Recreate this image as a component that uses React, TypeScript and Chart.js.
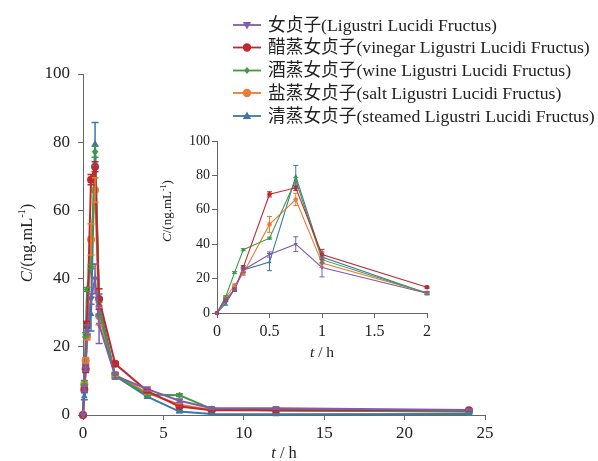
import React, { useEffect, useRef } from "react";
import { Chart, registerables } from "chart.js";

Chart.register(...registerables);

const times = [0, 0.083, 0.167, 0.25, 0.5, 0.75, 1, 2, 4, 6, 8, 12, 24];

const seriesNames = [
  "女贞子(Ligustri Lucidi Fructus)",
  "醋蒸女贞子(vinegar Ligustri Lucidi Fructus)",
  "酒蒸女贞子(wine Ligustri Lucidi Fructus)",
  "盐蒸女贞子(salt Ligustri Lucidi Fructus)",
  "清蒸女贞子(steamed Ligustri Lucidi Fructus)",
];

const rawValues = [0, 7.8, 13.8, 25, 34, 40, 26.5, 11.5, 7.6, 4.2, 2, 2, 1.5];
const vinegarValues = [0, 7.5, 13.5, 26.5, 69, 72.8, 34, 15, 7, 2.5, 1.4, 1.4, 1.4];
const wineValues = [0, 9.5, 23.5, 36.8, 43.5, 77.2, 31, 11.5, 6, 5.8, 1.8, 1.3, 1];
const saltValues = [0, 9, 16, 23, 51.5, 66, 29, 11.8, 6.5, 3, 1.5, 1.4, 1];
const steamedValues = [0, 5.5, 14, 25, 29.6, 79.5, 32.5, 11.5, 5.4, 1, 0.3, 0.2, 0.3];

const rawErrors = [0, 0.8, 1, 1.5, 1.5, 4.3, 5.5, 1, 0.6, 0.5, 0.3, 0.3, 0.2];
const vinegarErrors = [0, 0.6, 1, 1, 1.5, 1.5, 3, 0.6, 0.5, 0.3, 0.2, 0.2, 0.2];
const wineErrors = [0, 0.6, 0.6, 0.6, 0.6, 1.6, 2, 0.6, 0.5, 0.4, 0.2, 0.2, 0.2];
const saltErrors = [0, 0.6, 0.8, 1, 4.6, 3.6, 2.5, 0.6, 0.5, 0.3, 0.2, 0.2, 0.2];
const steamedErrors = [0, 1, 1, 1.2, 5, 6.3, 3, 0.6, 0.5, 0.3, 0.2, 0.2, 0.2];

const mainXTicks = [0, 5, 10, 15, 20, 25];
const mainYTicks = [0, 20, 40, 60, 80, 100];
const insetXTicks = [0, 0.5, 1, 1.5, 2];
const insetYTicks = [0, 20, 40, 60, 80, 100];

const colors = ["#7d5ea8", "#c0282e", "#3f9a44", "#ec7a34", "#3b77a8"];
const shapes = ["triangleDown", "circle", "rectRot", "circle", "triangle"];

const allValues = [rawValues, vinegarValues, wineValues, saltValues, steamedValues];
const allErrors = [rawErrors, vinegarErrors, wineErrors, saltErrors, steamedErrors];

const SERIF = "'Liberation Serif', 'Times New Roman', serif";

type Part = { t: string; i?: boolean; sup?: boolean };

function drawRich(ctx: CanvasRenderingContext2D, parts: Part[], cx: number, cy: number, size: number, rotate: boolean) {
  ctx.save();
  ctx.translate(cx, cy);
  if (rotate) ctx.rotate(-Math.PI / 2);
  const fontFor = (p: Part) => `${p.i ? "italic " : ""}${p.sup ? Math.round(size * 0.62) : size}px ${SERIF}`;
  let total = 0;
  for (const p of parts) {
    ctx.font = fontFor(p);
    total += ctx.measureText(p.t).width;
  }
  let x = -total / 2;
  ctx.fillStyle = "#222";
  ctx.textBaseline = "middle";
  ctx.textAlign = "left";
  for (const p of parts) {
    ctx.font = fontFor(p);
    ctx.fillText(p.t, x, p.sup ? -size * 0.35 : 0);
    x += ctx.measureText(p.t).width;
  }
  ctx.restore();
}

const yTitleParts: Part[] = [
  { t: "C", i: true },
  { t: "/(ng.mL" },
  { t: "-1", sup: true },
  { t: ")" },
];
const xTitleParts: Part[] = [{ t: "t", i: true }, { t: " / h" }];

function drawMarker(ctx: CanvasRenderingContext2D, shape: string, x: number, y: number, r: number, color: string) {
  ctx.save();
  ctx.fillStyle = color;
  ctx.beginPath();
  if (shape === "circle") {
    ctx.arc(x, y, r, 0, Math.PI * 2);
  } else if (shape === "triangle") {
    ctx.moveTo(x, y - r * 1.1);
    ctx.lineTo(x + r, y + r * 0.7);
    ctx.lineTo(x - r, y + r * 0.7);
    ctx.closePath();
  } else if (shape === "triangleDown") {
    ctx.moveTo(x, y + r * 1.1);
    ctx.lineTo(x + r, y - r * 0.7);
    ctx.lineTo(x - r, y - r * 0.7);
    ctx.closePath();
  } else if (shape === "rectRot") {
    ctx.moveTo(x, y - r);
    ctx.lineTo(x + r * 0.8, y);
    ctx.lineTo(x, y + r);
    ctx.lineTo(x - r * 0.8, y);
    ctx.closePath();
  }
  ctx.fill();
  ctx.restore();
}

function makeErrorPlugin(cap: number, lw: number) {
  return {
    id: "errbars",
    afterDatasetsDraw(chart: any) {
      const ctx = chart.ctx as CanvasRenderingContext2D;
      const ys = chart.scales.y;
      const xs = chart.scales.x;
      const area = chart.chartArea;
      ctx.save();
      ctx.beginPath();
      ctx.rect(area.left - 10, area.top - 20, area.right - area.left + 20, area.bottom - area.top + 30);
      ctx.clip();
      for (let d = chart.data.datasets.length - 1; d >= 0; d--) {
        const errs = allErrors[d];
        const vals = allValues[d];
        ctx.strokeStyle = colors[d];
        ctx.lineWidth = lw;
        for (let i = 0; i < times.length; i++) {
          if (!errs[i]) continue;
          const px = xs.getPixelForValue(times[i]);
          if (px > area.right + 1) continue;
          const top = ys.getPixelForValue(vals[i] + errs[i]);
          const bot = ys.getPixelForValue(vals[i] - errs[i]);
          ctx.beginPath();
          ctx.moveTo(px, top);
          ctx.lineTo(px, bot);
          ctx.moveTo(px - cap, top);
          ctx.lineTo(px + cap, top);
          ctx.moveTo(px - cap, bot);
          ctx.lineTo(px + cap, bot);
          ctx.stroke();
        }
      }
      ctx.restore();
    },
  };
}

function buildDatasets(radius: number, lineWidth: number) {
  return allValues.map((vals, d) => ({
    label: seriesNames[d],
    data: times.map((t, i) => ({ x: t, y: vals[i] })),
    borderColor: colors[d],
    backgroundColor: colors[d],
    borderWidth: lineWidth,
    pointStyle: shapes[d] === "triangleDown" ? "triangle" : shapes[d],
    rotation: shapes[d] === "triangleDown" ? 180 : 0,
    pointRadius: shapes[d] === "rectRot" ? radius * 0.85 : radius,
    pointBorderWidth: 0,
    tension: 0,
    clip: 12,
  }));
}

function axisCommon(ticks: number[], min: number, max: number, size: number, pad: number) {
  return {
    type: "linear" as const,
    min,
    max,
    afterBuildTicks(scale: any) {
      scale.ticks = ticks.map((v) => ({ value: v }));
    },
    ticks: {
      color: "#222",
      font: { family: SERIF, size },
      padding: pad,
      callback: (v: any) => String(v),
    },
    grid: {
      display: true,
      drawOnChartArea: false,
      drawTicks: true,
      tickLength: 5,
      color: "#666",
    },
    border: { display: true, color: "#666", width: 1 },
  };
}

export default function App() {
  const mainRef = useRef<HTMLCanvasElement>(null);
  const insetRef = useRef<HTMLCanvasElement>(null);

  useEffect(() => {
    const legendPlugin = {
      id: "customLegend",
      afterDraw(chart: any) {
        const ctx = chart.ctx as CanvasRenderingContext2D;
        const rowYs = [25, 47.5, 70.5, 93, 116];
        ctx.save();
        for (let d = 0; d < seriesNames.length; d++) {
          const y = rowYs[d];
          ctx.strokeStyle = colors[d];
          ctx.lineWidth = 1.8;
          ctx.beginPath();
          ctx.moveTo(233, y);
          ctx.lineTo(261, y);
          ctx.stroke();
          drawMarker(ctx, shapes[d], 247, y, shapes[d] === "rectRot" ? 3.5 : 4.2, colors[d]);
          ctx.font = `17.7px ${SERIF}, 'Noto Sans CJK SC'`;
          ctx.fillStyle = "#222";
          ctx.textBaseline = "middle";
          ctx.textAlign = "left";
          ctx.fillText(seriesNames[d], 268, y + 1);
        }
        ctx.restore();
        drawRich(ctx, yTitleParts, 28, 243, 16.5, true);
        drawRich(ctx, xTitleParts, 284, 454, 16.5, false);
      },
    };

    const mainChart = new Chart(mainRef.current!, {
      type: "line",
      data: { datasets: buildDatasets(4, 2) as any },
      options: {
        responsive: false,
        animation: false,
        layout: { padding: { left: 0, right: 113, top: 74, bottom: 0 } },
        plugins: { legend: { display: false }, tooltip: { enabled: false } },
        scales: {
          x: { ...axisCommon(mainXTicks, 0, 25, 17, 3), afterFit(s: any) { s.height = 46; } } as any,
          y: { ...axisCommon(mainYTicks, 0, 100, 17, 8), afterFit(s: any) { s.width = 83; } } as any,
        },
      },
      plugins: [makeErrorPlugin(3.5, 1.5), legendPlugin],
    });

    const insetTitlePlugin = {
      id: "insetTitles",
      afterDraw(chart: any) {
        const ctx = chart.ctx as CanvasRenderingContext2D;
        drawRich(ctx, yTitleParts, 18, 86, 13, true);
        drawRich(ctx, xTitleParts, 172, 228, 15.5, false);
      },
    };

    const insetChart = new Chart(insetRef.current!, {
      type: "line",
      data: { datasets: buildDatasets(2.3, 1.1) as any },
      options: {
        responsive: false,
        animation: false,
        layout: { padding: { left: 0, right: 13, top: 16, bottom: 0 } },
        plugins: { legend: { display: false }, tooltip: { enabled: false } },
        scales: {
          x: { ...axisCommon(insetXTicks, 0, 2, 16, 4), afterFit(s: any) { s.height = 52; } } as any,
          y: { ...axisCommon(insetYTicks, 0, 100, 14, 2), afterFit(s: any) { s.width = 67; } } as any,
        },
      },
      plugins: [makeErrorPlugin(2.5, 1), insetTitlePlugin],
    });

    return () => {
      mainChart.destroy();
      insetChart.destroy();
    };
  }, []);

  return (
    <div style={{ position: "fixed", left: 0, top: 0, width: 598, height: 461, background: "#ffffff" }}>
      <canvas ref={mainRef} width={598} height={461} style={{ position: "absolute", left: 0, top: 0 }} />
      <canvas ref={insetRef} width={290} height={240} style={{ position: "absolute", left: 150, top: 125 }} />
    </div>
  );
}
